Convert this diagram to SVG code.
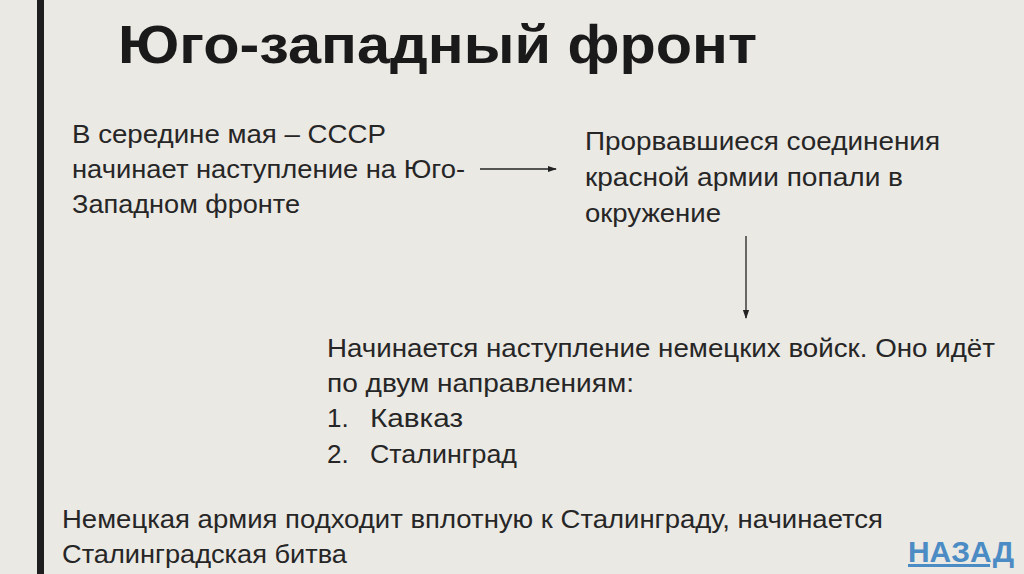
<svg xmlns="http://www.w3.org/2000/svg" width="1024" height="574" viewBox="0 0 1024 574">
<defs>
<style>
.t{font-family:"Liberation Sans","DejaVu Sans",sans-serif;font-size:26px;fill:#262626}
.h{font-family:"Liberation Sans","DejaVu Sans",sans-serif;font-size:54px;font-weight:bold;fill:#1a1a1a}
.c{stroke:#222;stroke-width:1.3;fill:none}
</style>
<marker id="a" viewBox="0 0 10 10" refX="9" refY="5" markerWidth="7" markerHeight="7" orient="auto"><path d="M0,1.5 L10,5 L0,8.5 z" fill="#222"/></marker>
</defs>
<rect width="1024" height="574" fill="#ebe9e4"/>
<rect x="37" y="0" width="7" height="574" fill="#1e1e1e"/>
<g id="title"><text class="h" x="118" y="63" textLength="639" lengthAdjust="spacingAndGlyphs">Юго-западный фронт</text></g>
<g id="n1" class="t">
<text x="72" y="143" textLength="314" lengthAdjust="spacingAndGlyphs">В середине мая – СССР</text>
<text x="72" y="178" textLength="393" lengthAdjust="spacingAndGlyphs">начинает наступление на Юго-</text>
<text x="72" y="213" textLength="228" lengthAdjust="spacingAndGlyphs">Западном фронте</text>
</g>
<g id="n2" class="t">
<text x="585" y="150" textLength="355" lengthAdjust="spacingAndGlyphs">Прорвавшиеся соединения</text>
<text x="585" y="186" textLength="318" lengthAdjust="spacingAndGlyphs">красной армии попали в</text>
<text x="585" y="222" textLength="136" lengthAdjust="spacingAndGlyphs">окружение</text>
</g>
<g id="n3" class="t">
<text x="327" y="357" textLength="668" lengthAdjust="spacingAndGlyphs">Начинается наступление немецких войск. Оно идёт</text>
<text x="327" y="392" textLength="307" lengthAdjust="spacingAndGlyphs">по двум направлениям:</text>
<text x="327" y="427">1.</text><text x="370" y="427" textLength="93" lengthAdjust="spacingAndGlyphs">Кавказ</text>
<text x="327" y="463">2.</text><text x="370" y="463" textLength="147" lengthAdjust="spacingAndGlyphs">Сталинград</text>
</g>
<g id="n4" class="t">
<text x="62" y="528" textLength="821" lengthAdjust="spacingAndGlyphs">Немецкая армия подходит вплотную к Сталинграду, начинается</text>
<text x="62" y="563" textLength="285" lengthAdjust="spacingAndGlyphs">Сталинградская битва</text>
</g>
<g id="back"><text x="908" y="562" font-family="Liberation Sans,sans-serif" font-size="30" font-weight="bold" fill="#4b8cc4" text-decoration="underline" textLength="106" lengthAdjust="spacingAndGlyphs">НАЗАД</text></g>
<g id="connectors">
<line class="c" x1="480" y1="169" x2="556" y2="169" marker-end="url(#a)"/>
<line class="c" x1="746" y1="236" x2="746" y2="318" marker-end="url(#a)"/>
</g>
</svg>
